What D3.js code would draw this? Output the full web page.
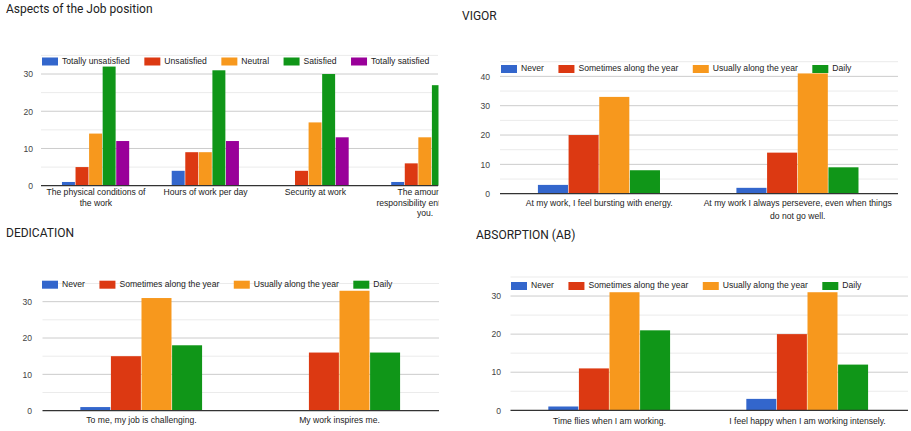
<!DOCTYPE html>
<html>
<head>
<meta charset="utf-8">
<script src="https://cdn.jsdelivr.net/npm/d3@7/dist/d3.min.js"></script>
<style>
  html, body { margin: 0; padding: 0; background: #fff; }
  svg { display: block; }
</style>
</head>
<body>
<svg id="chart" width="911" height="431"></svg>
<script>
// ---- Data ----
const jobCategories = [
  "The physical conditions of the work",
  "Hours of work per day",
  "Security at work",
  "The amount of responsibility entrusted to you."
];
const jobSeries = ["Totally unsatisfied", "Unsatisfied", "Neutral", "Satisfied", "Totally satisfied"];
// one row per category, one value per series
const jobValues = [
  [1, 5, 14, 32, 12],
  [4, 9, 9, 31, 12],
  [0, 4, 17, 30, 13],
  [1, 6, 13, 27, 17]
];
const jobTicks = [0, 10, 20, 30];

const freqSeries = ["Never", "Sometimes along the year", "Usually along the year", "Daily"];

const vigorCategories = [
  "At my work, I feel bursting with energy.",
  "At my work I always persevere, even when things do not go well."
];
const vigorValues = [
  [3, 20, 33, 8],
  [2, 14, 41, 9]
];
const vigorTicks = [0, 10, 20, 30, 40];

const dedicationCategories = [
  "To me, my job is challenging.",
  "My work inspires me."
];
const dedicationValues = [
  [1, 15, 31, 18],
  [0, 16, 33, 16]
];
const dedicationTicks = [0, 10, 20, 30];

const absorptionCategories = [
  "Time flies when I am working.",
  "I feel happy when I am working intensely."
];
const absorptionValues = [
  [1, 11, 31, 21],
  [3, 20, 31, 12]
];
const absorptionTicks = [0, 10, 20, 30];

const palette = ["#3366cc", "#dc3912", "#f7981d", "#109618", "#990099"];

// ---- Drawing ----
const svg = d3.select("#chart");
const labelFont = "'Liberation Sans', Arial, sans-serif";
const titleFont = "Roboto, 'Open Sans', sans-serif";

function wrapLines(textSel, str, maxWidth) {
  const words = str.split(" ");
  const lines = [];
  let cur = "";
  const probe = textSel.append("tspan");
  for (const w of words) {
    const test = cur ? cur + " " + w : w;
    probe.text(test);
    if (probe.node().getComputedTextLength() > maxWidth && cur) {
      lines.push(cur);
      cur = w;
    } else {
      cur = test;
    }
  }
  if (cur) lines.push(cur);
  probe.remove();
  return lines;
}

function drawPanel(cfg) {
  const g = svg.append("g");
  const clipId = "clip-" + cfg.id;
  svg.append("clipPath").attr("id", clipId)
    .append("rect").attr("x", 0).attr("y", 0)
    .attr("width", cfg.clipRight).attr("height", 431);
  const body = g.append("g").attr("clip-path", `url(#${clipId})`);

  // title
  g.append("text")
    .attr("x", cfg.titleX).attr("y", cfg.titleY)
    .attr("dominant-baseline", "middle")
    .style("font-family", titleFont)
    .style("font-size", "12px")
    .style("fill", "#222")
    .text(cfg.title);

  const y = d3.scaleLinear().domain([0, cfg.yMax]).range([cfg.y0, cfg.yTop]);
  const x0 = d3.scaleBand().domain(cfg.categories)
    .range([cfg.left, cfg.right]).paddingInner(0.382).paddingOuter(0.191);
  const x1 = d3.scaleBand().domain(cfg.series).range([0, x0.bandwidth()]);
  const color = d3.scaleOrdinal().domain(cfg.series).range(palette);

  // gridlines: minor every 5, major at the tick values
  const minor = d3.range(5, cfg.yMax + 0.1, 10);
  body.selectAll(".minor").data(minor).join("line")
    .attr("x1", cfg.left).attr("x2", cfg.gridRight)
    .attr("y1", d => y(d)).attr("y2", d => y(d))
    .attr("stroke", "#ebebeb").attr("stroke-width", 1);
  body.selectAll(".major").data(cfg.ticks.filter(t => t > 0)).join("line")
    .attr("x1", cfg.left).attr("x2", cfg.gridRight)
    .attr("y1", d => y(d)).attr("y2", d => y(d))
    .attr("stroke", "#cccccc").attr("stroke-width", 1);

  // y axis labels
  const yAxis = d3.axisLeft(y).tickValues(cfg.ticks).tickSize(0).tickPadding(0);
  const ya = g.append("g").attr("transform", `translate(${cfg.tickRight},0)`).call(yAxis);
  ya.select(".domain").remove();
  ya.selectAll("text")
    .style("font-family", labelFont).style("font-size", "8.6px").style("fill", "#444");

  // bars
  const groups = body.selectAll(".cat").data(cfg.categories).join("g")
    .attr("transform", d => `translate(${x0(d)},0)`);
  groups.selectAll("rect")
    .data((d, i) => cfg.series.map((s, j) => ({ s, v: cfg.values[i][j] })))
    .join("rect")
    .attr("x", d => x1(d.s))
    .attr("width", x1.bandwidth() - 0.6)
    .attr("y", d => y(d.v))
    .attr("height", d => y(0) - y(d.v))
    .attr("fill", d => color(d.s));

  // baseline
  body.append("line")
    .attr("x1", cfg.left).attr("x2", cfg.gridRight)
    .attr("y1", y(0)).attr("y2", y(0))
    .attr("stroke", "#333").attr("stroke-width", 1.2);

  // category labels, wrapped to the band step
  cfg.categories.forEach(cat => {
    const t = body.append("text")
      .attr("text-anchor", "middle")
      .style("font-family", labelFont).style("font-size", "8.6px").style("fill", "#222");
    const lines = wrapLines(t, cat, x0.step() - 8);
    lines.forEach((ln, k) => {
      t.append("tspan")
        .attr("x", x0(cat) + x0.bandwidth() / 2)
        .attr("y", cfg.catLabelY + k * cfg.lineHeight)
        .attr("dominant-baseline", "middle")
        .text(ln);
    });
  });

  // legend laid out left to right
  const lg = g.append("g");
  let lx = cfg.legendX;
  cfg.series.forEach(s => {
    lg.append("rect")
      .attr("x", lx).attr("y", cfg.legendY - 4)
      .attr("width", 16).attr("height", 8)
      .attr("fill", color(s));
    const tx = lg.append("text")
      .attr("x", lx + 20).attr("y", cfg.legendY)
      .attr("dominant-baseline", "middle")
      .style("font-family", labelFont).style("font-size", "8.6px").style("fill", "#222")
      .text(s);
    lx += 20 + tx.node().getComputedTextLength() + 14.5;
  });
}

drawPanel({
  id: "job", title: "Aspects of the Job position", titleX: 6, titleY: 10,
  categories: jobCategories, series: jobSeries, values: jobValues, ticks: jobTicks,
  yMax: 35, y0: 185.7, yTop: 55.4,
  left: 41, right: 480, gridRight: 438, clipRight: 438.5, tickRight: 33,
  catLabelY: 193, lineHeight: 10.5,
  legendX: 42, legendY: 61.5
});

drawPanel({
  id: "vigor", title: "VIGOR", titleX: 462, titleY: 17,
  categories: vigorCategories, series: freqSeries, values: vigorValues, ticks: vigorTicks,
  yMax: 45, y0: 193.7, yTop: 61.7,
  left: 500, right: 897, gridRight: 898, clipRight: 911, tickRight: 490,
  catLabelY: 204, lineHeight: 12.7,
  legendX: 501, legendY: 69
});

drawPanel({
  id: "dedication", title: "DEDICATION", titleX: 6, titleY: 234,
  categories: dedicationCategories, series: freqSeries, values: dedicationValues, ticks: dedicationTicks,
  yMax: 35, y0: 410.7, yTop: 283.5,
  left: 42.5, right: 438.5, gridRight: 439, clipRight: 911, tickRight: 32,
  catLabelY: 421, lineHeight: 12.7,
  legendX: 42, legendY: 284.7
});

drawPanel({
  id: "absorption", title: "ABSORPTION (AB)", titleX: 476, titleY: 236,
  categories: absorptionCategories, series: freqSeries, values: absorptionValues, ticks: absorptionTicks,
  yMax: 35, y0: 410.3, yTop: 277,
  left: 510.5, right: 906.5, gridRight: 908, clipRight: 911, tickRight: 501,
  catLabelY: 421.7, lineHeight: 12.7,
  legendX: 511, legendY: 286
});
</script>
</body>
</html>
